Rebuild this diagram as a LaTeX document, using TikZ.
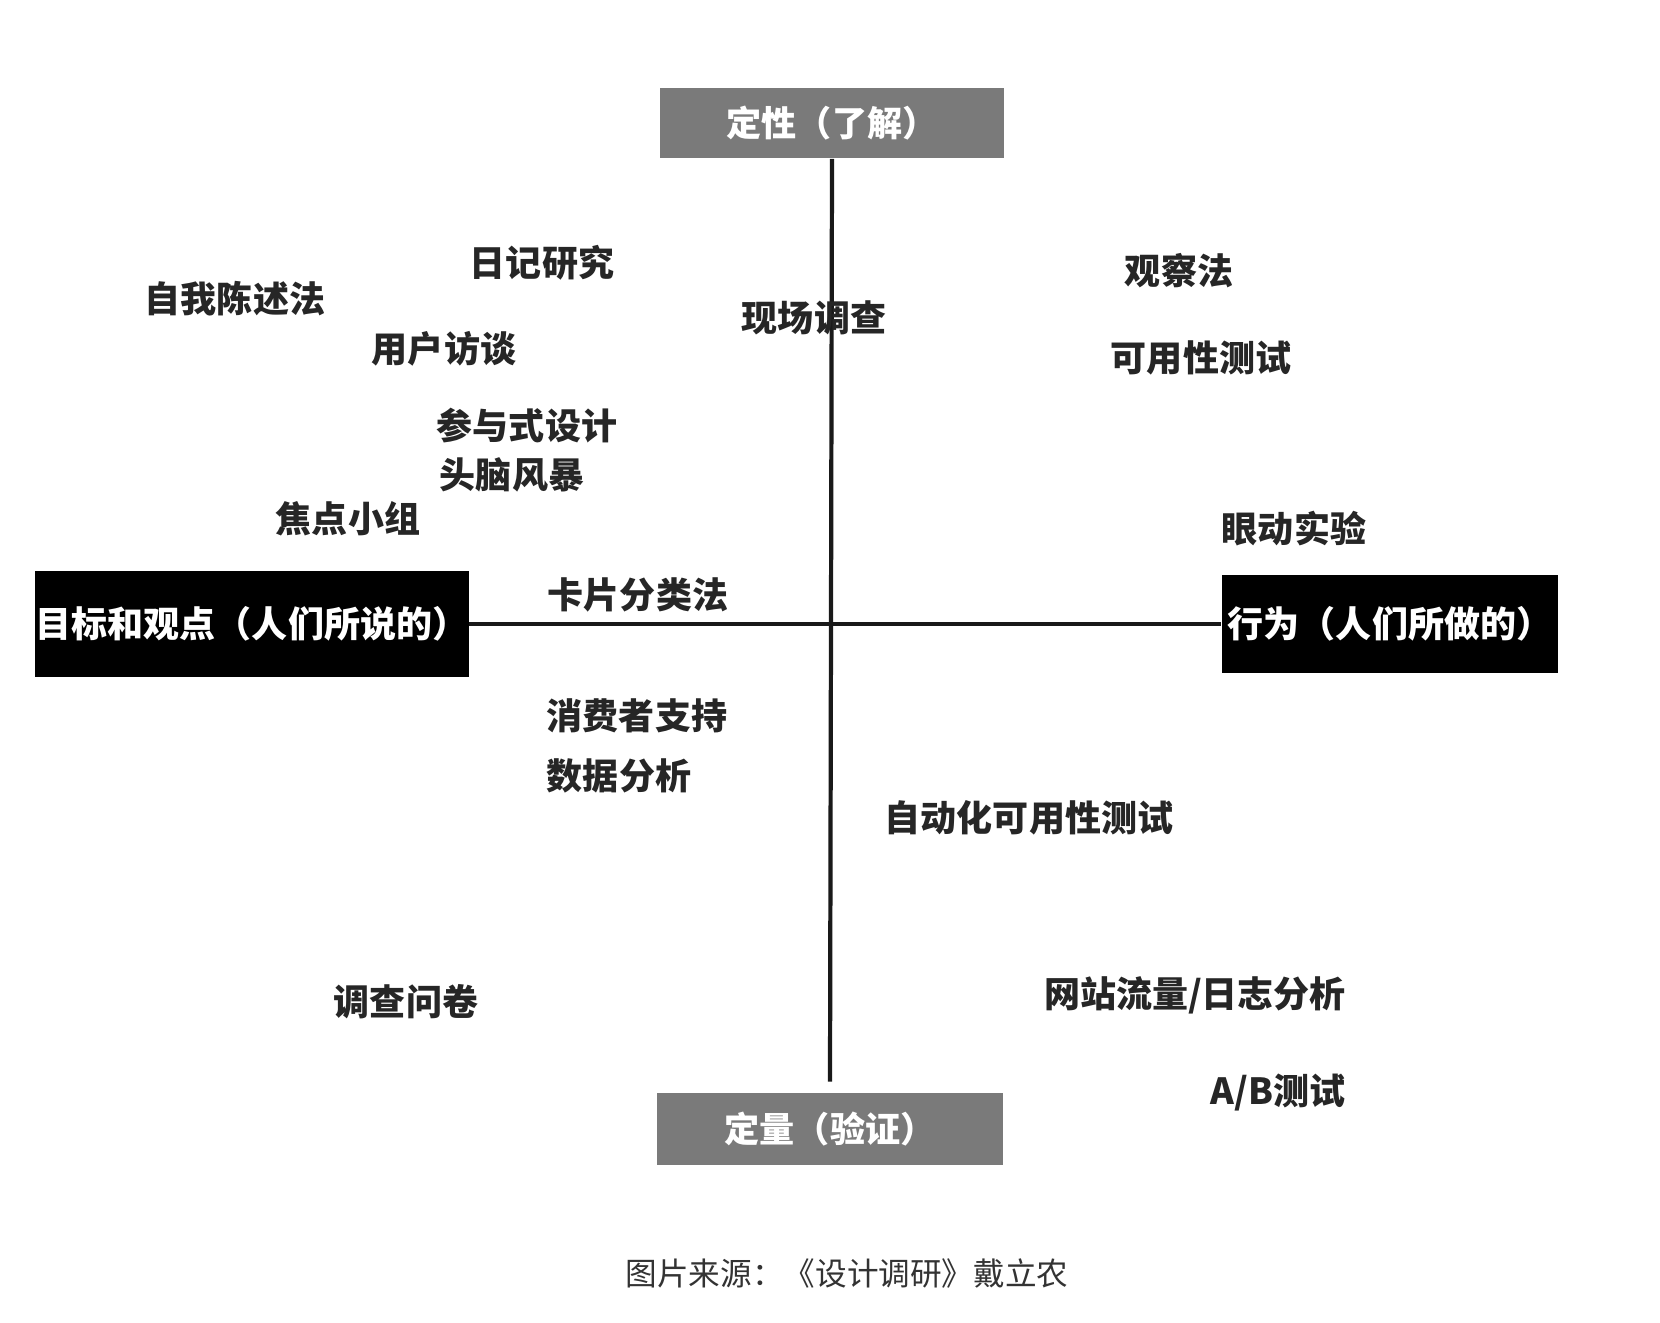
\documentclass[tikz,border=0pt]{standalone}
\usepackage{fontspec}
\newfontfamily\cjk{Noto Sans CJK SC}
\begin{document}
\begin{tikzpicture}[x=0.02cm,y=-0.02cm,
  lbl/.style={font=\cjk\bfseries\fontsize{20.5}{24}\selectfont,text=black!85,inner sep=0pt},
  graybox/.style={fill=black!52,text=white,font=\cjk\bfseries\fontsize{20}{24}\selectfont,inner sep=0pt},
  blackbox/.style={fill=black,text=white,font=\cjk\bfseries\fontsize{20.5}{24}\selectfont,inner sep=0pt},
  axis/.style={line width=2.4pt,black!90}]
\useasboundingbox (0,0) rectangle (1660,1322);

\node[graybox,minimum width=6.88cm,minimum height=1.42cm] (qual) at (832,123) {定性（了解）};
\node[graybox,minimum width=6.94cm,minimum height=1.44cm] (quant) at (830,1129) {定量（验证）};
\node[blackbox,minimum width=8.68cm,minimum height=2.14cm] (say) at (252,624) {目标和观点（人们所说的）};
\node[blackbox,minimum width=6.74cm,minimum height=1.96cm] (do) at (1390,624) {行为（人们所做的）};

\draw[axis] (qual.south) -- ([yshift=0.22cm]quant.north);
\draw[axis,line width=2pt] (say.east) -- (do.west);

\node[lbl] (diary) at (542,263) {日记研究};
\node[lbl] (self) at (235,299) {自我陈述法};
\node[lbl] (interview) at (444,349) {用户访谈};
\node[lbl] (field) at (814,318) {现场调查};
\node[lbl] (observe) at (1179,271) {观察法};
\node[lbl] (usability) at (1201,358) {可用性测试};
\node[lbl] (participate) at (527,426) {参与式设计};
\node[lbl] (brainstorm) at (512,475) {头脑风暴};
\node[lbl] (focus) at (348,519) {焦点小组};
\node[lbl] (eyetrack) at (1294,529) {眼动实验};
\node[lbl] (cardsort) at (638,595) {卡片分类法};
\node[lbl] (support) at (637,716) {消费者支持};
\node[lbl] (analytics) at (619,776) {数据分析};
\node[lbl] (autotest) at (1029,818) {自动化可用性测试};
\node[lbl] (survey) at (406,1002) {调查问卷};
\node[lbl] (traffic) at (1195,995) {网站流量/日志分析};
\node[lbl] (abtest) at (1278,1093) {A/B测试};

\node[font=\cjk\fontsize{18}{22}\selectfont,text=black!80] (source) at (847,1273) {图片来源：《设计调研》戴立农};
\end{tikzpicture}
\end{document}
